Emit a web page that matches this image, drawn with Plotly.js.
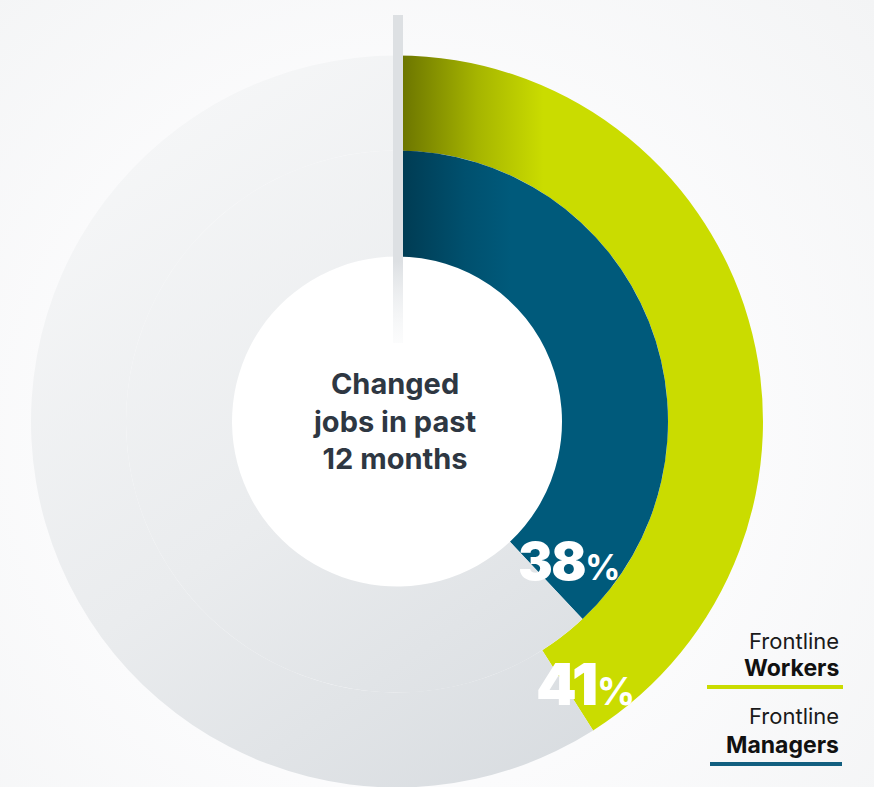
<!DOCTYPE html>
<html>
<head>
<meta charset="utf-8">
<script src="https://cdn.plot.ly/plotly-3.0.1.min.js"></script>
<style>
  html, body { margin: 0; padding: 0; overflow: hidden; }
  body { background: radial-gradient(circle at 46% 56%, #ffffff 0%, #fcfcfd 48%, #f3f4f5 100%); width: 874px; height: 787px; }
  #chart { width: 874px; height: 800px; }
</style>
</head>
<body>
<div id="chart"></div>
<script>
// ---- data ----
const categories = ['Frontline Workers', 'Frontline Managers'];
const changedJobsPct = [41, 38];
const centerLabel = 'Changed<br>jobs in past<br>12 months';
const legendTop = ['Frontline', 'Frontline'];
const legendBottom = ['Workers', 'Managers'];

// ---- styling / geometry ----
const W = 874, H = 800;
const cx = 397, cy = 421.5;
const R_OUT = 366, R_MID = 271, R_IN = 165;
const GREEN = '#cadc00', TEAL = '#005a7b', GRAY = '#e6e8ea';
const px = x => x / W;
const py = y => 1 - y / H;
function dom(r) {
  return { x: [px(cx - r), px(cx + r)], y: [py(cy + r), py(cy - r)] };
}

const ringColors = [[GREEN, GRAY], [TEAL, GRAY]];
const ringRadii = [[R_OUT, R_MID], [R_MID, R_IN]];

const data = changedJobsPct.map((v, i) => ({
  type: 'pie',
  name: categories[i],
  labels: [categories[i] + ' – changed jobs', categories[i] + ' – other'],
  values: [v, 100 - v],
  sort: false,
  direction: 'clockwise',
  rotation: 0,
  hole: ringRadii[i][1] / ringRadii[i][0],
  domain: dom(ringRadii[i][0]),
  marker: { colors: ringColors[i], line: { width: 0 } },
  textinfo: 'none',
  hoverinfo: 'skip',
  showlegend: false
}));

const pctPos = [{ x: 585, y: 684, size: 58, psize: 38 }, { x: 569, y: 561, size: 52, psize: 35 }];

const annotations = [
  {
    text: centerLabel, x: px(394), y: py(421), xref: 'paper', yref: 'paper',
    xanchor: 'center', yanchor: 'middle', showarrow: false, align: 'center',
    font: { family: 'Inter, Roboto, sans-serif', size: 29, color: '#2e3742', weight: 700 }
  }
];
changedJobsPct.forEach((v, i) => {
  annotations.push({
    text: '<span style="letter-spacing:-1.5px">' + v + '</span><span style="font-size:' + pctPos[i].psize + 'px;font-weight:700;letter-spacing:0px">%</span>',
    x: px(pctPos[i].x), y: py(pctPos[i].y), xref: 'paper', yref: 'paper',
    xanchor: 'center', yanchor: 'middle', showarrow: false,
    font: { family: 'Inter, Roboto, sans-serif', size: pctPos[i].size, color: '#ffffff', weight: 900 }
  });
});
const legY = [[641, 668, 687], [716, 745, 764]];
const legLine = [[707, 843], [710, 842]];
const legColors = [GREEN, '#125f80'];
const shapes = [
  { type: 'circle', layer: 'below', xref: 'paper', yref: 'paper',
    x0: px(cx - R_IN), x1: px(cx + R_IN), y0: py(cy + R_IN), y1: py(cy - R_IN),
    fillcolor: '#ffffff', line: { width: 0 } },
  { type: 'rect', layer: 'above', xref: 'paper', yref: 'paper',
    x0: px(393), x1: px(403), y0: py(343), y1: py(15),
    fillcolor: '#dde0e3', line: { width: 0 } }
];
categories.forEach((c, i) => {
  annotations.push({
    text: legendTop[i], x: px(841), y: py(legY[i][0]), xref: 'paper', yref: 'paper',
    xanchor: 'right', yanchor: 'middle', showarrow: false,
    font: { family: 'Inter, Roboto, sans-serif', size: 22, color: '#1a1a1a', weight: 400 }
  });
  annotations.push({
    text: legendBottom[i], x: px(841), y: py(legY[i][1]), xref: 'paper', yref: 'paper',
    xanchor: 'right', yanchor: 'middle', showarrow: false,
    font: { family: 'Inter, Roboto, sans-serif', size: 23, color: '#111111', weight: 700 }
  });
  shapes.push({ type: 'line', layer: 'above', xref: 'paper', yref: 'paper',
    x0: px(legLine[i][0]), x1: px(legLine[i][1]), y0: py(legY[i][2]), y1: py(legY[i][2]),
    line: { color: legColors[i], width: 4 } });
});

const layout = {
  width: W, height: H,
  margin: { l: 0, r: 0, t: 0, b: 0, pad: 0 },
  paper_bgcolor: 'rgba(0,0,0,0)', plot_bgcolor: 'rgba(0,0,0,0)',
  showlegend: false,
  annotations: annotations,
  shapes: shapes
};

Plotly.newPlot('chart', data, layout, { staticPlot: true, displayModeBar: false }).then(gd => {
  const NS = 'http://www.w3.org/2000/svg';
  const svg = gd.querySelector('.main-svg');
  let defs = svg.querySelector('defs');
  if (!defs) { defs = document.createElementNS(NS, 'defs'); svg.insertBefore(defs, svg.firstChild); }
  function grad(id, x1, y1, x2, y2, stops, user) {
    const g = document.createElementNS(NS, 'linearGradient');
    g.setAttribute('id', id);
    if (user) g.setAttribute('gradientUnits', 'userSpaceOnUse');
    g.setAttribute('x1', x1); g.setAttribute('y1', y1);
    g.setAttribute('x2', x2); g.setAttribute('y2', y2);
    stops.forEach(s => {
      const st = document.createElementNS(NS, 'stop');
      st.setAttribute('offset', s[0]);
      st.setAttribute('stop-color', s[1]);
      if (s[2] !== undefined) st.setAttribute('stop-opacity', s[2]);
      g.appendChild(st);
    });
    defs.appendChild(g);
  }
  grad('gGreen', 0, 0, 1, 0, [[0, '#687100'], [0.22, '#a6b500'], [0.4, GREEN], [1, GREEN]]);
  grad('gTeal', 0, 0, 1, 0, [[0, '#003a51'], [0.25, '#00506e'], [0.42, TEAL], [1, TEAL]]);
  grad('gLine', 0, 0, 0, 1, [[0, '#dde0e3', 1], [0.75, '#dde0e3', 1], [1, '#eef0f2', 0.2]]);
  const grayStops = [[0, '#f5f6f7'], [0.5, '#eaecee'], [1, '#d8dce0']];
  const p1 = [cx - R_OUT * 0.75, cy - R_OUT * 0.75];
  const p2 = [cx + R_OUT * 0.45, cy + R_OUT];
  const traces = gd.querySelectorAll('.pielayer .trace');
  traces.forEach((t, i) => {
    const paths = t.querySelectorAll('.slice path.surface');
    if (paths[0]) paths[0].style.fill = 'url(#' + (i === 0 ? 'gGreen' : 'gTeal') + ')';
    if (paths[1]) {
      const m = paths[1].getScreenCTM().inverse();
      const a = new DOMPoint(p1[0], p1[1]).matrixTransform(m);
      const b = new DOMPoint(p2[0], p2[1]).matrixTransform(m);
      grad('gGray' + i, a.x, a.y, b.x, b.y, grayStops, true);
      paths[1].style.fill = 'url(#gGray' + i + ')';
    }
  });
  const rects = gd.querySelectorAll('.layer-above .shapelayer path');
  rects.forEach(p => {
    if (p.style.fill && p.style.fill !== 'none' && p.style.fill.indexOf('rgba(0, 0, 0, 0)') < 0) p.style.fill = 'url(#gLine)';
  });
});
</script>
</body>
</html>
